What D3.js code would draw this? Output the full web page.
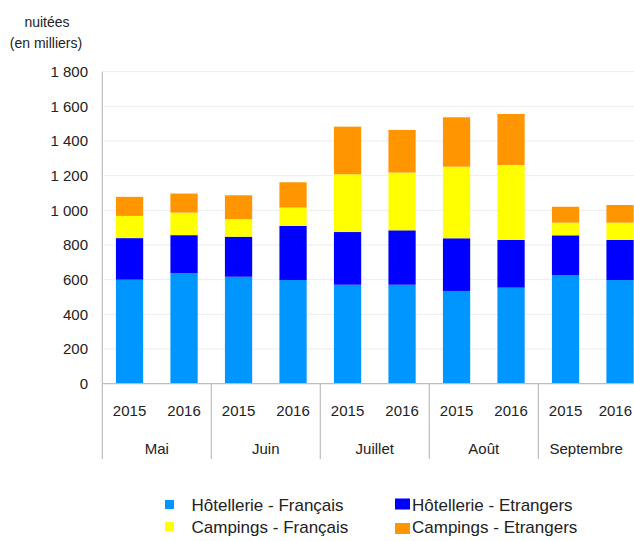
<!DOCTYPE html>
<html>
<head>
<meta charset="utf-8">
<script src="https://cdn.jsdelivr.net/npm/d3@7"></script>
<style>
  html, body { margin: 0; padding: 0; background: #fff; }
  svg { display: block; font-family: "Liberation Sans", Arial, Helvetica, sans-serif; }
</style>
</head>
<body>
<svg id="chart" width="634" height="541"></svg>
<script>
// ---- Data ----
const months = ["Mai", "Juin", "Juillet", "Août", "Septembre"];
const years = ["2015", "2016"];
const seriesNames = ["Hôtellerie - Français", "Hôtellerie - Etrangers", "Campings - Français", "Campings - Etrangers"];
const hotelFr  = [600, 637, 617, 598, 571, 571, 535, 554, 627, 598];
const hotelEtr = [240, 220, 231, 312, 304, 314, 304, 275, 229, 231];
const campFr   = [128, 130, 101, 106, 333, 333, 413, 433,  73, 100];
const campEtr  = [110, 110, 138, 146, 275, 246, 285, 294,  92, 102];
const yTicks = [0, 200, 400, 600, 800, 1000, 1200, 1400, 1600, 1800];
const colors = ["#0096ff", "#0000ff", "#ffff00", "#ff9600"];

// ---- Build rows ----
const keys = ["hf", "he", "cf", "ce"];
const rows = [];
months.forEach((m, mi) => years.forEach((y, yi) => {
  const i = mi * 2 + yi;
  rows.push({ id: m + "|" + y, month: m, year: y, hf: hotelFr[i], he: hotelEtr[i], cf: campFr[i], ce: campEtr[i] });
}));

const W = 634;
const svg = d3.select("#chart");
const x0 = 102.3, x1 = 647.3, yBase = 383.7, yTop = 71.7;

const x = d3.scaleBand().domain(rows.map(d => d.id)).range([x0, x1]).paddingInner(0.5).paddingOuter(0.25);
const xm = d3.scaleBand().domain(months).range([x0, x1]).padding(0);
const y = d3.scaleLinear().domain([0, 1800]).range([yBase, yTop]);

const fmt = v => d3.format(",")(v).replace(/,/g, " ");
const txt = "#222";

// gridlines
svg.append("g").selectAll("line").data(yTicks.filter(t => t > 0)).join("line")
  .attr("x1", x0).attr("x2", W).attr("y1", d => y(d)).attr("y2", d => y(d))
  .attr("stroke", "#ececec").attr("stroke-width", 1);

// y tick labels
svg.append("g").selectAll("text").data(yTicks).join("text")
  .attr("x", 88).attr("y", d => y(d)).attr("dy", "0.36em")
  .attr("text-anchor", "end").attr("font-size", 15).attr("fill", txt)
  .text(fmt);

// axis title
svg.append("text").attr("x", 47).attr("y", 27).attr("text-anchor", "middle")
  .attr("font-size", 14).attr("fill", txt).text("nuitées");
svg.append("text").attr("x", 46).attr("y", 48).attr("text-anchor", "middle")
  .attr("font-size", 14).attr("fill", txt).text("(en milliers)");

// stacked bars
const stack = d3.stack().keys(keys)(rows);
svg.append("g").selectAll("g").data(stack).join("g")
  .attr("fill", (d, i) => colors[i])
  .selectAll("rect").data(d => d).join("rect")
  .attr("x", d => x(d.data.id)).attr("width", x.bandwidth())
  .attr("y", d => y(d[1])).attr("height", d => y(d[0]) - y(d[1]));

// axes lines
svg.append("line").attr("x1", x0).attr("x2", W).attr("y1", yBase).attr("y2", yBase)
  .attr("stroke", "#bdbdbd").attr("stroke-width", 1.2);
svg.append("line").attr("x1", x0).attr("x2", x0).attr("y1", yTop).attr("y2", 459)
  .attr("stroke", "#bdbdbd").attr("stroke-width", 1.2);
// group dividers
svg.append("g").selectAll("line").data(months.slice(1)).join("line")
  .attr("x1", d => xm(d)).attr("x2", d => xm(d)).attr("y1", yBase).attr("y2", 459)
  .attr("stroke", "#bdbdbd").attr("stroke-width", 1.2);

// year labels (kept inside the visible area)
svg.append("g").selectAll("text").data(rows).join("text")
  .attr("y", 416)
  .attr("text-anchor", "middle").attr("font-size", 15).attr("fill", txt)
  .text(d => d.year)
  .attr("x", function(d) {
    const c = x(d.id) + x.bandwidth() / 2;
    const hw = this.getComputedTextLength() / 2;
    return Math.min(c, W - 2 - hw);
  });
// month labels centred on visible part of each group
svg.append("g").selectAll("text").data(months).join("text")
  .attr("x", d => (xm(d) + Math.min(xm(d) + xm.bandwidth(), W)) / 2).attr("y", 454)
  .attr("text-anchor", "middle").attr("font-size", 15).attr("fill", txt)
  .text(d => d);

// legend
const legend = [
  { i: 0, sx: 165, sy: 500, sw: 9, sh: 9, tx: 191.5, ty: 511 },
  { i: 1, sx: 395, sy: 498.5, sw: 15, sh: 11, tx: 412, ty: 511 },
  { i: 2, sx: 165, sy: 522, sw: 9, sh: 9, tx: 191.5, ty: 533 },
  { i: 3, sx: 395, sy: 523, sw: 15, sh: 11, tx: 412, ty: 533 }
];
const lg = svg.append("g").selectAll("g").data(legend).join("g");
lg.append("rect").attr("x", d => d.sx).attr("y", d => d.sy)
  .attr("width", d => d.sw).attr("height", d => d.sh).attr("fill", d => colors[d.i]);
lg.append("text").attr("x", d => d.tx).attr("y", d => d.ty)
  .attr("font-size", 17).attr("fill", txt).text(d => seriesNames[d.i]);
</script>
</body>
</html>
